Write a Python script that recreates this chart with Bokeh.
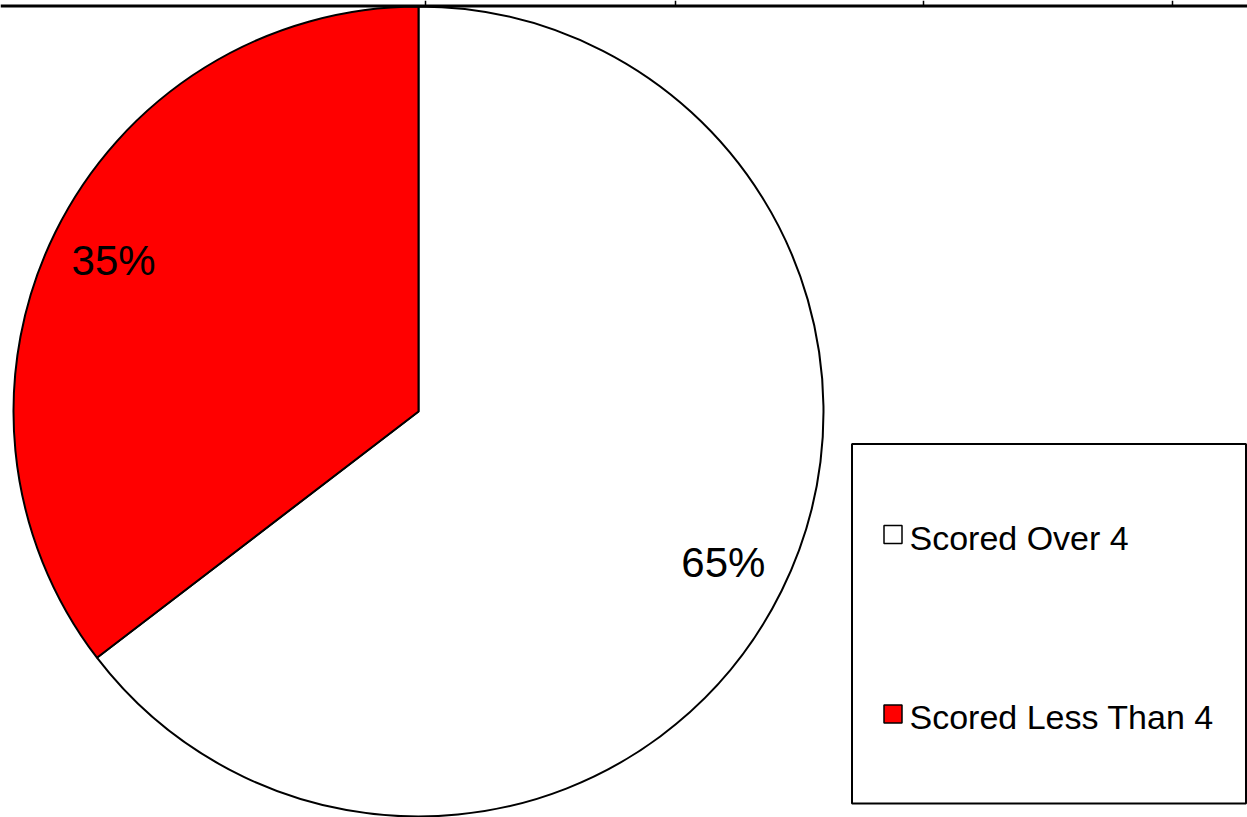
import numpy as np
from bokeh.plotting import figure
from bokeh.models import ColumnDataSource
from bokeh.core.properties import value
from bokeh.embed import file_html
from bokeh.resources import INLINE

# ---- data ----
categories = ["Scored Over 4", "Scored Less Than 4"]
percents = [64.6, 35.4]
colors = ["#FFFFFF", "#FF0000"]
top_tick_x = [425, 675, 923, 1172]

W, H = 1247, 817
FONT = "Liberation Sans"

p = figure(width=W, height=H, x_range=(0, W), y_range=(0, H),
           output_backend="svg", toolbar_location=None,
           x_axis_type=None, y_axis_type=None, min_border=0)
p.grid.visible = False
p.outline_line_color = None
p.background_fill_color = "white"
p.border_fill_color = "white"

# pie geometry (layout)
cx, cy, r = 418, H - 411, 405
vals = np.array(percents, dtype=float)
frac = vals / vals.sum()
ends = np.cumsum(frac) * 2 * np.pi
starts = ends - frac * 2 * np.pi
start_ang = np.pi / 2 - starts
end_ang = np.pi / 2 - ends
mid_ang = (start_ang + end_ang) / 2

src = ColumnDataSource(dict(
    x=[cx] * len(vals), y=[cy] * len(vals),
    start=start_ang, end=end_ang, color=colors, cat=categories,
    lx=cx + 340 * np.cos(mid_ang), ly=cy + 340 * np.sin(mid_ang),
    lbl=[f"{round(v)}%" for v in percents],
))

p.wedge(x="x", y="y", radius=r, start_angle="start", end_angle="end",
        direction="clock", fill_color="color", line_color="black",
        line_width=2, source=src)

p.text(x="lx", y="ly", text="lbl", source=src, text_align="center",
       text_baseline="middle", y_offset=0,
       text_font=value(FONT), text_font_size="42px", text_color="black")

# top border line with ticks
p.segment(x0=[0], y0=[H - 5.5], x1=[W], y1=[H - 5.5], line_color="black", line_width=3)
p.segment(x0=top_tick_x, y0=[H] * len(top_tick_x), x1=top_tick_x,
          y1=[H - 5] * len(top_tick_x), line_color="black", line_width=1.5)

# legend (manual)
p.quad(left=[851.5], right=[1245.5], top=[H - 443.5], bottom=[H - 803],
       fill_color="white", line_color="black", line_width=2)
leg_y = [H - 534, H - 713.5]
leg_src = ColumnDataSource(dict(x=[892.5] * 2, y=leg_y, color=colors,
                                tx=[909] * 2, ty=leg_y, cat=categories))
p.rect(x="x", y="y", width=18, height=18, fill_color="color",
       line_color="black", line_width=1.5, source=leg_src)
p.text(x="tx", y="ty", text="cat", source=leg_src, text_align="left",
       text_baseline="middle", y_offset=3, text_font=value(FONT),
       text_font_size="34px", text_color="black")

open("out.html", "w").write(file_html(p, INLINE))
